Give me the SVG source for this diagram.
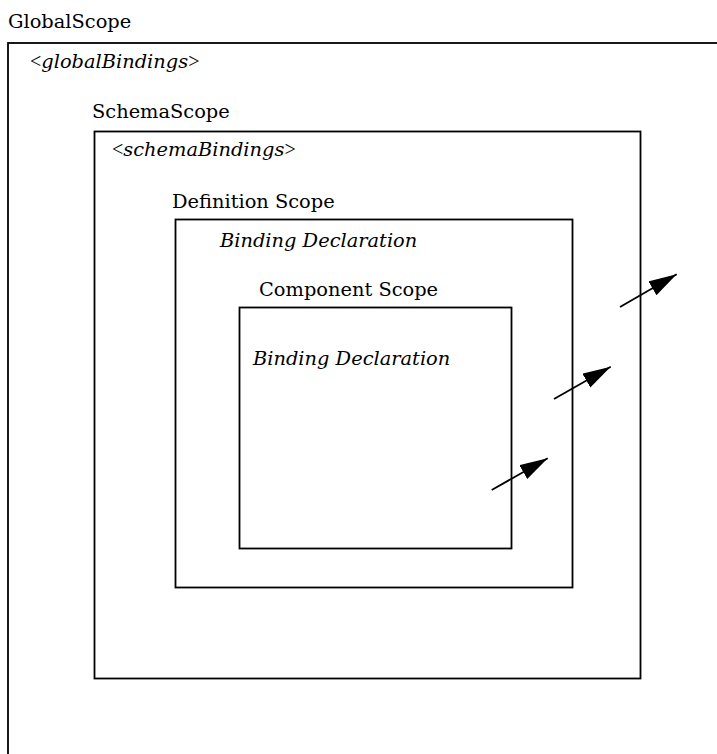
<svg xmlns="http://www.w3.org/2000/svg" width="717" height="754" viewBox="0 0 717 754">
  <style>
    text { font-family: "DejaVu Serif", "Liberation Serif", serif; font-size: 19.4px; fill: #000; }
    .it { font-style: italic; }
    .br { font-family: "Liberation Serif", serif; font-size: 20px; }
    .box { fill: none; stroke: #000; stroke-width: 1.8; }
    .arr { fill: none; stroke: #000; stroke-width: 1.8; marker-end: url(#head); }
  </style>
  <defs>
    <marker id="head" markerUnits="userSpaceOnUse" markerWidth="30" markerHeight="18" refX="28" refY="8" orient="auto">
      <path d="M0,0 L28,8 L0,16 Z" fill="#000"/>
    </marker>
  </defs>
  <rect width="717" height="754" fill="#fff"/>
  <g id="global-scope">
    <rect class="box" x="8" y="43" width="720" height="720"/>
    <text x="8" y="28">GlobalScope</text>
    <text x="30" y="68"><tspan class="br">&lt;</tspan><tspan class="it">globalBindings</tspan><tspan class="br">&gt;</tspan></text>
  </g>
  <g id="schema-scope">
    <rect class="box" x="94.5" y="131.5" width="546" height="547"/>
    <text x="92" y="118">SchemaScope</text>
    <text x="112" y="156"><tspan class="br">&lt;</tspan><tspan class="it">schemaBindings</tspan><tspan class="br">&gt;</tspan></text>
  </g>
  <g id="definition-scope">
    <rect class="box" x="175.5" y="219.5" width="397" height="368"/>
    <text x="172" y="208">Definition Scope</text>
    <text class="it" x="220" y="247">Binding Declaration</text>
  </g>
  <g id="component-scope">
    <rect class="box" x="239.5" y="307.5" width="272" height="241"/>
    <text x="259" y="296">Component Scope</text>
    <text class="it" x="253" y="365">Binding Declaration</text>
  </g>
  <g id="connectors">
    <line class="arr" x1="491.7" y1="490" x2="547.7" y2="458.3"/>
    <line class="arr" x1="554" y1="399" x2="610.7" y2="366.7"/>
    <line class="arr" x1="620" y1="307" x2="676.7" y2="274.3"/>
  </g>
</svg>
